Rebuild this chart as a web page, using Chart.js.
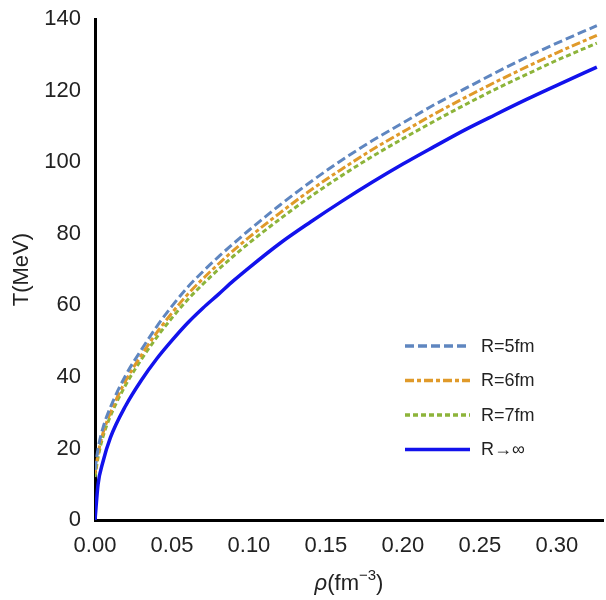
<!DOCTYPE html>
<html>
<head>
<meta charset="utf-8">
<script src="https://cdn.jsdelivr.net/npm/chart.js@4"></script>
<style>
  html, body { margin: 0; padding: 0; background: #fff; }
  #wrap { width: 606px; height: 600px; }
</style>
</head>
<body>
<div id="wrap"><canvas id="mycanvas" width="606" height="600"></canvas></div>
<script>
// density values (fm^-3)
let rho = [0, 0.002, 0.005, 0.01, 0.02, 0.03, 0.04, 0.05, 0.06, 0.07, 0.08, 0.09,
  0.10, 0.12, 0.14, 0.16, 0.18, 0.20, 0.22, 0.24, 0.26, 0.28, 0.30, 0.326];

// temperatures (MeV) for each radius
let tR5 = [14, 20, 25.5, 31.5, 40.5, 47.5, 54, 59.8, 65, 69.4, 73.5, 77.3,
  81, 88, 94.5, 100.5, 106, 111, 116, 120.5, 125, 129.3, 133.3, 138.2];
let tR6 = [13, 18.5, 24, 30, 39, 46, 52.3, 57.9, 63, 67.4, 71.5, 75.4,
  79, 85.8, 92.2, 98, 103.5, 108.5, 113.4, 118, 122.4, 126.6, 130.6, 135.5];
let tR7 = [12, 17.5, 23, 29, 37.8, 44.8, 51, 56.5, 61.5, 65.9, 70, 73.8,
  77.4, 84.1, 90.4, 96.2, 101.6, 106.6, 111.4, 116, 120.4, 124.5, 128.5, 133.3];
let tInf = [0, 10, 16, 23, 32, 39, 45, 50.2, 55, 59.2, 63, 66.9,
  70.5, 77.3, 83.3, 89, 94.4, 99.5, 104.3, 109, 113.3, 117.5, 121.5, 126.6];

let seriesLabels = ["R=5fm", "R=6fm", "R=7fm", "R\u2192\u221E"];
let yTicks = [0, 20, 40, 60, 80, 100, 120, 140];

function pts(ys) {
  return rho.map((r, i) => ({x: r, y: ys[i]}));
}

let FONT = "'Liberation Sans', Arial, sans-serif";

let styles = [
  {color: "#5F86C0", dash: [9, 4], width: 3},
  {color: "#E09A2A", dash: [9, 3, 4, 3], width: 3},
  {color: "#8DB43A", dash: [5, 3], width: 3},
  {color: "#1212EC", dash: [], width: 3.5},
];

let datasets = [tR5, tR6, tR7, tInf].map((ys, i) => ({
  label: seriesLabels[i],
  data: pts(ys),
  borderColor: styles[i].color,
  borderDash: styles[i].dash,
  borderWidth: styles[i].width,
  pointRadius: 0,
  fill: false,
  cubicInterpolationMode: "monotone",
}));

// legend inside the plot (lower right) and the x title with superscript
let extras = {
  id: "extras",
  afterDraw(chart) {
    let ctx = chart.ctx;
    ctx.save();
    ctx.font = "18px " + FONT;
    ctx.textBaseline = "middle";
    chart.data.datasets.forEach((ds, i) => {
      let y = 346 + i * 34.5;
      ctx.strokeStyle = ds.borderColor;
      ctx.lineWidth = 3.5;
      ctx.setLineDash(ds.borderDash);
      ctx.beginPath();
      ctx.moveTo(405, y);
      ctx.lineTo(470, y);
      ctx.stroke();
      ctx.setLineDash([]);
      ctx.fillStyle = "#222";
      ctx.fillText(ds.label, 481, y + 1);
    });

    // x axis title: rho(fm^-3)
    let area = chart.chartArea;
    let cx = (area.left + area.right) / 2;
    let base = 590;
    ctx.textBaseline = "alphabetic";
    let p1 = "\u03C1", p2 = "(fm", p3 = "\u22123", p4 = ")";
    ctx.font = "italic 22px " + FONT;
    let w1 = ctx.measureText(p1).width;
    ctx.font = "22px " + FONT;
    let w2 = ctx.measureText(p2).width;
    let w4 = ctx.measureText(p4).width;
    ctx.font = "15px " + FONT;
    let w3 = ctx.measureText(p3).width;
    let x = cx - (w1 + w2 + w3 + w4) / 2;
    ctx.fillStyle = "#222";
    ctx.font = "italic 22px " + FONT;
    ctx.fillText(p1, x, base); x += w1;
    ctx.font = "22px " + FONT;
    ctx.fillText(p2, x, base); x += w2;
    ctx.font = "15px " + FONT;
    ctx.fillText(p3, x, base - 10); x += w3;
    ctx.font = "22px " + FONT;
    ctx.fillText(p4, x, base);
    ctx.restore();
  },
};

let tickFont = {family: FONT, size: 22};

new Chart(document.getElementById("mycanvas"), {
  type: "line",
  data: {datasets: datasets},
  options: {
    responsive: false,
    animation: false,
    layout: {padding: {top: 10, right: 3, left: 0, bottom: 0}},
    plugins: {legend: {display: false}, tooltip: {enabled: false}},
    scales: {
      x: {
        type: "linear",
        min: 0,
        max: 0.33,
        grid: {display: false},
        border: {display: true, color: "#000", width: 3},
        ticks: {
          stepSize: 0.05,
          includeBounds: false,
          color: "#222",
          font: tickFont,
          padding: 5,
          maxRotation: 0,
          callback: (v) => v.toFixed(2),
        },
        afterFit: (s) => { s.height = 80; },
      },
      y: {
        min: 0,
        max: 140,
        grid: {display: false},
        border: {display: true, color: "#000", width: 3},
        afterBuildTicks: (s) => { s.ticks = yTicks.map((v) => ({value: v})); },
        ticks: {color: "#222", font: tickFont, padding: 6},
        title: {
          display: true,
          text: "T(MeV)",
          color: "#222",
          font: {family: FONT, size: 22},
          padding: {top: 9, bottom: 0},
        },
        afterFit: (s) => { s.width = 95; },
      },
    },
  },
  plugins: [extras],
});
</script>
</body>
</html>
